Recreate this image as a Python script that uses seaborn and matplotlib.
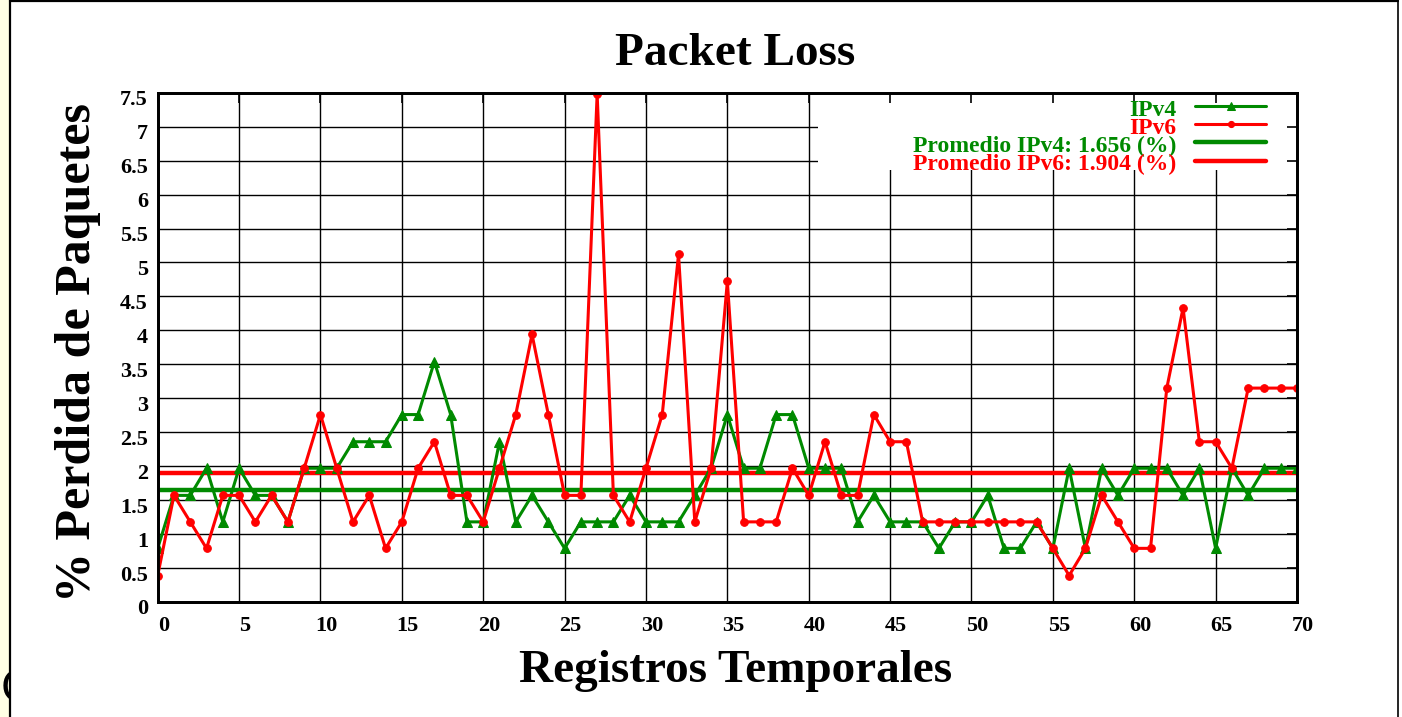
import numpy as np
import pandas as pd
import seaborn as sns
import matplotlib.pyplot as plt
from matplotlib.patches import Rectangle
from matplotlib.lines import Line2D
from matplotlib.transforms import ScaledTranslation, Bbox, TransformedBbox

# datos
registros = list(range(71))
ipv4 = [0.79, 1.57, 1.57, 1.97, 1.18, 1.97, 1.57, 1.57, 1.18, 1.97,
        1.97, 1.97, 2.36, 2.36, 2.36, 2.76, 2.76, 3.54, 2.76, 1.18,
        1.18, 2.36, 1.18, 1.57, 1.18, 0.79, 1.18, 1.18, 1.18, 1.57,
        1.18, 1.18, 1.18, 1.57, 1.97, 2.76, 1.97, 1.97, 2.76, 2.76,
        1.97, 1.97, 1.97, 1.18, 1.57, 1.18, 1.18, 1.18, 0.79, 1.18,
        1.18, 1.57, 0.79, 0.79, 1.18, 0.79, 1.97, 0.79, 1.97, 1.57,
        1.97, 1.97, 1.97, 1.57, 1.97, 0.79, 1.97, 1.57, 1.97, 1.97, 1.97]
ipv6 = [0.39, 1.57, 1.18, 0.79, 1.57, 1.57, 1.18, 1.57, 1.18, 1.97,
        2.76, 1.97, 1.18, 1.57, 0.79, 1.18, 1.97, 2.36, 1.57, 1.57,
        1.18, 1.97, 2.76, 3.94, 2.76, 1.57, 1.57, 7.48, 1.57, 1.18,
        1.97, 2.76, 5.12, 1.18, 1.97, 4.72, 1.18, 1.18, 1.18, 1.97,
        1.57, 2.36, 1.57, 1.57, 2.76, 2.36, 2.36, 1.18, 1.18, 1.18,
        1.18, 1.18, 1.18, 1.18, 1.18, 0.79, 0.39, 0.79, 1.57, 1.18,
        0.79, 0.79, 3.15, 4.33, 2.36, 2.36, 1.97, 3.15, 3.15, 3.15, 3.15]
promedio_ipv4 = 1.656
promedio_ipv6 = 1.904

x_ticks = list(range(0, 71, 5))
y_ticks = [0, 0.5, 1, 1.5, 2, 2.5, 3, 3.5, 4, 4.5, 5, 5.5, 6, 6.5, 7, 7.5]
y_ticklabels = ['0', '0.5', '1', '1.5', '2', '2.5', '3', '3.5', '4', '4.5',
                '5', '5.5', '6', '6.5', '7', '7.5']

verde = '#008a00'
rojo = '#ff0000'

sns.set_style('white')
plt.rcParams['font.family'] = ['Liberation Serif', 'DejaVu Serif']
plt.rcParams['font.weight'] = 'bold'
for k in ('text.color', 'axes.labelcolor', 'xtick.color', 'ytick.color'):
    plt.rcParams[k] = 'black'

df = pd.DataFrame({'registro': registros, 'IPv4': ipv4, 'IPv6': ipv6})

fig = plt.figure(figsize=(14.02, 7.17), dpi=100)
ax = fig.add_axes([157.7 / 1402, 1 - 602 / 717, 1139.3 / 1402, 509.3 / 717])

sns.lineplot(data=df, x='registro', y='IPv4', ax=ax, color=verde, lw=2.2,
             marker='^', markersize=7, markeredgecolor=verde,
             markerfacecolor=verde, label='IPv4', zorder=3)
sns.lineplot(data=df, x='registro', y='IPv6', ax=ax, color=rojo, lw=2.2,
             marker='o', markersize=5.5, markeredgecolor=rojo,
             markerfacecolor=rojo, label='IPv6', zorder=3)
ax.axhline(promedio_ipv4, color=verde, lw=3.2, zorder=2,
           label=f'Promedio IPv4: {promedio_ipv4:.3f} (%)')
ax.axhline(promedio_ipv6, color=rojo, lw=3.2, zorder=2,
           label=f'Promedio IPv6: {promedio_ipv6:.3f} (%)')
handles, labels = ax.get_legend_handles_labels()
ax.get_legend().remove()

ax.set_xlim(0, 70)
ax.set_ylim(0, 7.5)
ax.set_xticks(x_ticks)
ax.set_yticks(y_ticks)
ax.set_yticklabels(y_ticklabels)
ax.set_axisbelow(True)
ax.grid(True, color='black', lw=1.0)
ax.tick_params(axis='both', direction='in', length=0, labelsize=16)
ax.tick_params(axis='x', pad=10)
ax.tick_params(axis='y', pad=7)
for s in ax.spines.values():
    s.set_color('black')
    s.set_linewidth(1.8)

dx = ScaledTranslation(0.06, 0, fig.dpi_scale_trans)
for lab in ax.get_xticklabels():
    lab.set_transform(lab.get_transform() + dx)
dy = ScaledTranslation(0, -0.05, fig.dpi_scale_trans)
for lab in ax.get_yticklabels():
    lab.set_transform(lab.get_transform() + dy)

# caja blanca de la leyenda
ax.add_patch(Rectangle((0.5796, 0.848), 1 - 0.5796, 1 - 0.848,
                       transform=ax.transAxes, facecolor='white',
                       edgecolor='none', zorder=1))

# marcas interiores arriba y a la derecha
ax_top = ax.twiny()
ax_top.set_xlim(0, 70)
ax_top.set_xticks(x_ticks)
ax_top.tick_params(axis='x', direction='in', length=7, width=1.2,
                   labeltop=False, top=True, bottom=False)
ax_right = ax.twinx()
ax_right.set_ylim(0, 7.5)
ax_right.set_yticks(y_ticks)
ax_right.tick_params(axis='y', direction='in', length=7, width=1.2,
                     labelright=False, right=True, left=False)
for a in (ax_top, ax_right):
    for s in a.spines.values():
        s.set_color('black')
        s.set_linewidth(1.8)

leg = ax_right.legend(handles, labels, loc='upper right',
                      bbox_to_anchor=((1266 - 157.7) / 1139.3, 0.992),
                      frameon=False, markerfirst=False, fontsize=17,
                      handlelength=3.0, handleheight=1.05, handletextpad=0.8,
                      labelspacing=-0.25, borderpad=0, borderaxespad=0,
                      markerscale=0.8, labelcolor='linecolor')

ax.set_title('Packet Loss', fontsize=34, fontweight='bold',
             x=(735 - 157.7) / 1139.3, pad=20)
ax.set_xlabel('Registros Temporales', fontsize=34, fontweight='bold')
ax.set_ylabel('% Perdida de Paquetes', fontsize=36, fontweight='bold')
ax.xaxis.set_label_coords((736 - 157.7) / 1139.3, -0.094)
ax.yaxis.set_label_coords(-0.0498, 0.49)

# borde de la captura
fig.add_artist(Rectangle((0, 0), 9 / 1402, 1, transform=fig.transFigure,
                         facecolor='#ffffe4', edgecolor='none'))
c = fig.text(1 / 1402, 1 - 690 / 717, 'C', fontsize=30, fontweight='normal',
             family='DejaVu Sans', va='center', ha='left')
c.set_clip_box(TransformedBbox(Bbox([[0, 0], [9 / 1402, 1]]), fig.transFigure))
c.set_clip_on(True)
fig.add_artist(Line2D([10 / 1402, 10 / 1402], [0, 1], color='black', lw=1.6,
                      transform=fig.transFigure))
fig.add_artist(Line2D([10 / 1402, 1398 / 1402], [1 - 1 / 717, 1 - 1 / 717],
                      color='black', lw=1.6, transform=fig.transFigure))
fig.add_artist(Line2D([1398 / 1402, 1398 / 1402], [0, 1], color='black',
                      lw=1.2, transform=fig.transFigure))

fig.savefig('out.png', dpi=100, facecolor='white')
